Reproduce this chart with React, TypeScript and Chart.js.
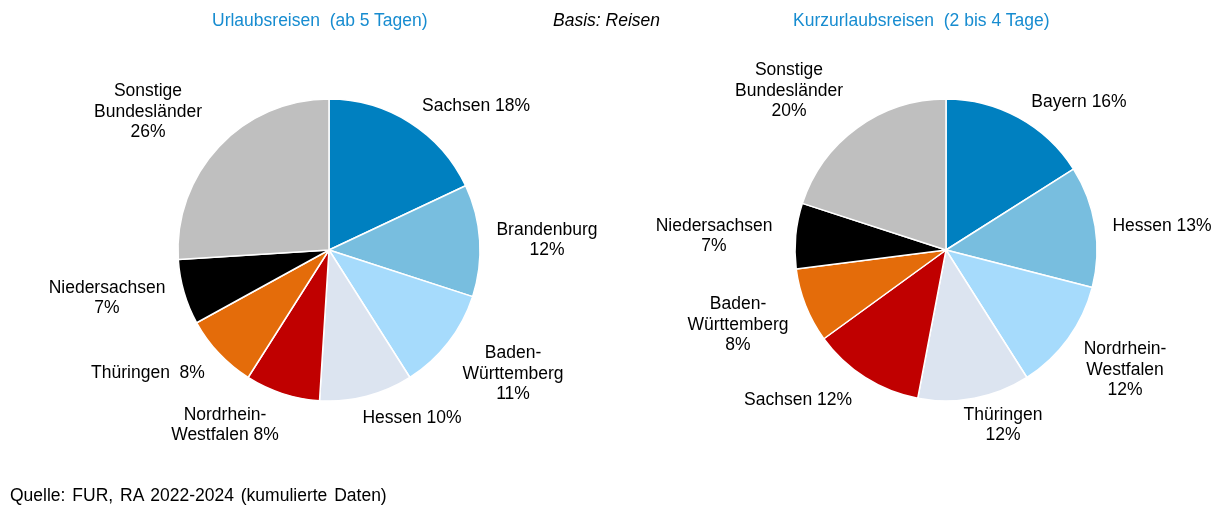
import React, { useEffect, useRef } from "react";
import { Chart, registerables } from "chart.js";

Chart.register(...registerables);

// ---------- DATA ----------
const leftCategories = [
  "Sachsen",
  "Brandenburg",
  "Baden-Württemberg",
  "Hessen",
  "Nordrhein-Westfalen",
  "Thüringen",
  "Niedersachsen",
  "Sonstige Bundesländer",
];
const leftValues = [18, 12, 11, 10, 8, 8, 7, 26];

const rightCategories = [
  "Bayern",
  "Hessen",
  "Nordrhein-Westfalen",
  "Thüringen",
  "Sachsen",
  "Baden-Württemberg",
  "Niedersachsen",
  "Sonstige Bundesländer",
];
const rightValues = [16, 13, 12, 12, 12, 8, 7, 20];

const leftTitle = "Urlaubsreisen  (ab 5 Tagen)";
const rightTitle = "Kurzurlaubsreisen  (2 bis 4 Tage)";
const basisText = "Basis: Reisen";
const sourceText = "Quelle: FUR, RA 2022-2024 (kumulierte Daten)";

// ---------- STYLE / LAYOUT ----------
const sliceColors = [
  "#0080C0",
  "#78BEDF",
  "#A6DBFC",
  "#DCE4F0",
  "#C00000",
  "#E46C0A",
  "#000000",
  "#BFBFBF",
];
const TITLE_BLUE = "#178CD0";
const FONT = "'Liberation Sans', Arial, Helvetica, sans-serif";
const LABEL_FONT = `17.5px ${FONT}`;
const LINE_H = 20.5;
const W = 1220;
const H = 509;
const RADIUS = 151;

type LabelSpec = { dx: number; dy: number; mode: "inline" | "stack" | "wrapInline"; sep?: string };

const leftLabelLayout: LabelSpec[] = [
  { dx: 147, dy: -144, mode: "inline" },
  { dx: 218, dy: -10, mode: "stack" },
  { dx: 184, dy: 124, mode: "stack" },
  { dx: 83, dy: 168, mode: "inline" },
  { dx: -104, dy: 175, mode: "wrapInline" },
  { dx: -181, dy: 123, mode: "inline", sep: "  " },
  { dx: -222, dy: 48, mode: "stack" },
  { dx: -181, dy: -138, mode: "stack" },
];
const rightLabelLayout: LabelSpec[] = [
  { dx: 133, dy: -148, mode: "inline" },
  { dx: 216, dy: -24, mode: "inline" },
  { dx: 179, dy: 120, mode: "stack" },
  { dx: 57, dy: 175, mode: "stack" },
  { dx: -148, dy: 150, mode: "inline" },
  { dx: -208, dy: 75, mode: "stack" },
  { dx: -232, dy: -14, mode: "stack" },
  { dx: -157, dy: -159, mode: "stack" },
];

function buildLines(name: string, value: number, spec: LabelSpec): string[] {
  const pct = `${value}%`;
  if (spec.mode === "inline") return [name + (spec.sep ?? " ") + pct];
  const parts = name.split(/(?<=-)|\s+/).filter((s) => s.length > 0);
  if (spec.mode === "stack") return [...parts, pct];
  const out = parts.slice();
  out[out.length - 1] = out[out.length - 1] + " " + pct;
  return out;
}

function makeLabelPlugin(categories: string[], values: number[], layout: LabelSpec[]) {
  return {
    id: "sliceLabels",
    afterDraw(chart: any) {
      const ctx = chart.ctx as CanvasRenderingContext2D;
      const meta = chart.getDatasetMeta(0);
      ctx.save();
      ctx.font = LABEL_FONT;
      ctx.fillStyle = "#000000";
      ctx.textAlign = "center";
      ctx.textBaseline = "middle";
      meta.data.forEach((arc: any, i: number) => {
        const spec = layout[i];
        const lines = buildLines(categories[i], values[i], spec);
        const cx = arc.x + spec.dx;
        const cy = arc.y + spec.dy;
        const top = cy - ((lines.length - 1) * LINE_H) / 2;
        lines.forEach((ln, k) => ctx.fillText(ln, cx, top + k * LINE_H));
      });
      ctx.restore();
    },
  };
}

function PieCanvas(props: {
  categories: string[];
  values: number[];
  layout: LabelSpec[];
  padding: { left: number; right: number; top: number; bottom: number };
}) {
  const ref = useRef<HTMLCanvasElement | null>(null);
  useEffect(() => {
    if (!ref.current) return;
    const chart = new Chart(ref.current, {
      type: "pie",
      data: {
        labels: props.categories,
        datasets: [
          {
            data: props.values,
            backgroundColor: sliceColors,
            borderColor: "#FFFFFF",
            borderWidth: 1.5,
            hoverOffset: 0,
            offset: 0,
            radius: RADIUS,
          } as any,
        ],
      },
      options: {
        responsive: false,
        animation: false,
        devicePixelRatio: 1,
        layout: { padding: props.padding },
        plugins: { legend: { display: false }, tooltip: { enabled: false } },
        events: [],
      } as any,
      plugins: [makeLabelPlugin(props.categories, props.values, props.layout)],
    });
    return () => chart.destroy();
  }, []);
  return (
    <canvas
      ref={ref}
      width={W}
      height={H}
      style={{ position: "absolute", left: 0, top: 0, width: W, height: H }}
    />
  );
}

const textBase: React.CSSProperties = {
  position: "absolute",
  fontFamily: FONT,
  fontSize: "17.5px",
  lineHeight: "20px",
  whiteSpace: "pre",
};

export default function App() {
  return (
    <div
      style={{
        position: "absolute",
        left: 0,
        top: 0,
        width: W,
        height: H,
        background: "#FFFFFF",
        overflow: "hidden",
      }}
    >
      <PieCanvas
        categories={leftCategories}
        values={leftValues}
        layout={leftLabelLayout}
        padding={{ left: 178, right: W - 480, top: 99, bottom: H - 401 }}
      />
      <PieCanvas
        categories={rightCategories}
        values={rightValues}
        layout={rightLabelLayout}
        padding={{ left: 795, right: W - 1097, top: 99, bottom: H - 401 }}
      />
      <div style={{ ...textBase, left: 212, top: 10, color: TITLE_BLUE }}>{leftTitle}</div>
      <div style={{ ...textBase, left: 553, top: 10, color: "#000", fontStyle: "italic" }}>{basisText}</div>
      <div style={{ ...textBase, left: 793, top: 10, color: TITLE_BLUE }}>{rightTitle}</div>
      <div style={{ ...textBase, left: 10, top: 485, color: "#000", wordSpacing: "2px" }}>{sourceText}</div>
    </div>
  );
}
